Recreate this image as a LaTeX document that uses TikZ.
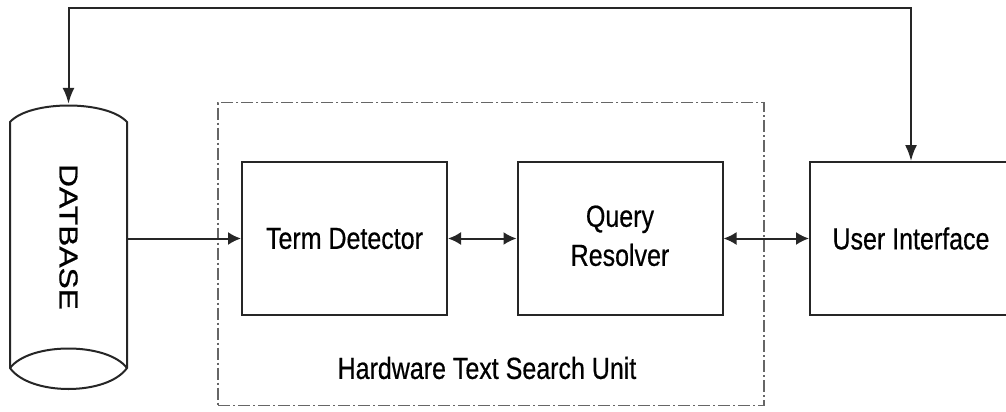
\documentclass[tikz,border=0pt]{standalone}
\usepackage{fontspec}
\setmainfont{Liberation Sans}[FakeBold=0.6]
\usetikzlibrary{arrows.meta}
\newcommand\vstretch[1]{\scalebox{1}[1.22]{#1}}
\begin{document}
\begin{tikzpicture}[x=1pt,y=-1pt,
  line/.style={draw=black!85, line width=2pt},
  box/.style={line, minimum width=205pt, minimum height=153pt, inner sep=0pt, font=\fontsize{25}{32}\selectfont},
  arr/.style={line, -{Latex[length=13pt,width=13pt]}},
  darr/.style={line, {Latex[length=13pt,width=13pt]}-{Latex[length=13pt,width=13pt]}},
  varr/.style={line, {Latex[length=16pt,width=12pt]}-{Latex[length=16pt,width=12pt]}},
  unit/.style={draw=black!60, line width=1.2pt, dash pattern=on 12pt off 3pt on 2pt off 3pt, minimum width=546pt, minimum height=303pt, inner sep=0pt},
  lbl/.style={font=\fontsize{25}{32}\selectfont, inner sep=0pt}]
\useasboundingbox (0,0) rectangle (1006,412);
\fill[white] (0,0) rectangle (1006,412);

% dashed unit
\node[unit] (hw) at (491,254) {};
\node[lbl] (hwl) at (487,368) {\vstretch{Hardware Text Search Unit}};

% blocks
\node[box] (td) at (344.5,238.5) {\vstretch{Term Detector}};
\node[box] (qr) at (620,238.5) {\vstretch{\begin{tabular}{@{}c@{}}Query\\Resolver\end{tabular}}};
\node[box, minimum width=202pt] (ui) at (911,238.5) {\vstretch{User Interface}};

% database cylinder
\node[minimum width=117pt, minimum height=286pt, inner sep=0pt] (db) at (68.5,247) {};
\draw[line] (10,122) .. controls (30,100) and (107,100) .. (127,122) -- (127,368)
  .. controls (107,396) and (30,396) .. (10,368) -- cycle;
\draw[line] (10,368) .. controls (30,342) and (107,342) .. (127,368);
\node[font=\fontsize{26}{30}\selectfont, inner sep=0pt] (dbl) at (68.5,237) {\rotatebox{-90}{\scalebox{1.22}[1]{DATBASE}}};

% connectors
\coordinate (top) at (500,8);
\draw[arr] (db.east |- td.west) -- (td.west);
\draw[darr] (td.east) -- (qr.west);
\draw[darr] (qr.east) -- (ui.west);
\draw[varr] (db.north) -- (db.north |- top) -| (ui.north);
\end{tikzpicture}
\end{document}
